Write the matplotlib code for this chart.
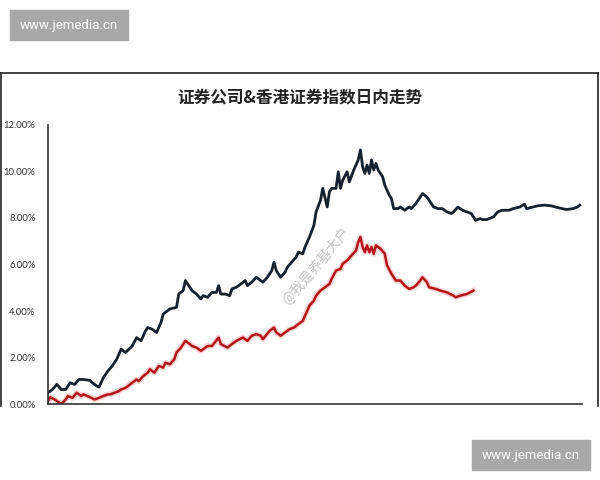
import matplotlib.pyplot as plt
from matplotlib.lines import Line2D
from matplotlib.patches import Rectangle

plt.rcParams["font.family"] = ["Noto Sans CJK SC", "DejaVu Sans"]

# 数据：分钟 / 日内涨幅(%)
black_t = [0, 2, 4, 6, 8, 10, 12, 14, 16, 19, 20, 22, 23, 25, 27, 29, 31, 33, 35, 38,
           40, 42, 44, 45, 47, 49, 51, 52, 55, 58, 59, 61, 62, 64, 65, 67, 69, 70, 72, 74,
           76, 77, 78, 80, 82, 83, 85, 87, 89, 90, 92, 94, 96, 97, 99, 101, 102, 103, 105, 107,
           108, 110, 112, 113, 115, 116, 118, 120, 121, 123, 124, 126, 127, 128, 130, 131, 132, 133, 135, 136,
           138, 140, 141, 142, 143, 144, 145, 146, 147, 148, 149, 151, 152, 154, 155, 156, 158, 159, 161, 163,
           164, 166, 168, 169, 171, 172, 174, 176, 178, 180, 182, 183, 185, 187, 189, 191, 193, 195, 196, 198,
           201, 203, 205, 208, 210, 213, 215, 216, 219, 221, 224, 227, 229, 232, 234, 237, 239, 240]
black_v = [0.49, 0.63, 0.85, 0.63, 0.63, 0.92, 0.85, 1.06, 1.06, 1.02, 0.92, 0.78, 0.73, 1.14, 1.42, 1.64, 1.93, 2.36, 2.22, 2.50,
           2.86, 2.72, 3.15, 3.29, 3.22, 3.08, 3.51, 3.87, 4.09, 4.16, 4.73, 4.88, 5.31, 5.02, 4.88, 4.73, 4.52, 4.66, 4.59, 4.80,
           4.80, 5.09, 4.73, 4.73, 4.66, 4.95, 5.02, 5.16, 5.31, 5.09, 5.24, 5.45, 5.31, 5.24, 5.45, 5.74, 6.10, 5.74, 5.45, 5.67,
           5.88, 6.10, 6.32, 6.53, 6.46, 6.75, 7.18, 7.68, 8.26, 8.76, 9.27, 8.47, 9.12, 9.27, 9.27, 9.98, 9.27, 9.62, 9.98, 9.55,
           10.06, 10.49, 10.92, 10.20, 9.91, 10.27, 9.91, 10.49, 10.06, 10.34, 10.06, 9.77, 9.41, 8.98, 8.83, 8.40, 8.40, 8.47, 8.33, 8.47,
           8.40, 8.62, 8.90, 9.05, 8.90, 8.76, 8.47, 8.40, 8.40, 8.26, 8.19, 8.26, 8.47, 8.33, 8.26, 8.19, 7.90, 7.97, 7.93, 7.93,
           8.04, 8.26, 8.33, 8.33, 8.40, 8.47, 8.59, 8.40, 8.47, 8.52, 8.55, 8.52, 8.47, 8.40, 8.36, 8.40, 8.47, 8.55]

red_t = [0, 1, 3, 6, 8, 9, 11, 13, 15, 16, 19, 21, 23, 25, 27, 28, 30, 32, 33, 35,
         38, 40, 41, 43, 45, 46, 48, 50, 52, 53, 55, 57, 58, 60, 62, 64, 65, 67, 69, 71,
         72, 74, 77, 78, 81, 83, 85, 88, 90, 92, 94, 96, 97, 100, 102, 103, 105, 107, 109, 111,
         113, 115, 116, 118, 120, 121, 123, 125, 127, 128, 130, 132, 133, 135, 137, 139, 140, 141, 142, 143,
         144, 145, 146, 147, 148, 150, 152, 153, 155, 157, 159, 161, 163, 165, 166, 168, 169, 171, 172, 175,
         177, 180, 183, 184, 186, 189, 192]
red_v = [0.13, 0.30, 0.20, 0.01, 0.20, 0.35, 0.27, 0.49, 0.35, 0.42, 0.30, 0.20, 0.27, 0.35, 0.42, 0.42, 0.49, 0.56, 0.63, 0.70,
         0.92, 1.06, 0.99, 1.21, 1.35, 1.50, 1.35, 1.64, 1.57, 1.78, 1.71, 1.93, 2.22, 2.43, 2.72, 2.58, 2.50, 2.43, 2.29, 2.43,
         2.50, 2.50, 2.86, 2.58, 2.43, 2.58, 2.72, 2.86, 2.72, 2.94, 3.01, 2.94, 2.79, 3.15, 3.29, 3.08, 2.94, 3.08, 3.22, 3.29,
         3.44, 3.58, 3.80, 4.23, 4.45, 4.66, 4.88, 5.02, 5.16, 5.38, 5.74, 5.81, 6.03, 6.17, 6.39, 6.60, 6.96, 7.18, 6.75, 6.53,
         6.82, 6.53, 6.75, 6.46, 6.82, 6.68, 6.46, 5.96, 5.60, 5.31, 5.31, 5.09, 4.95, 5.02, 5.09, 5.31, 5.45, 5.24, 5.02, 4.95,
         4.88, 4.80, 4.66, 4.59, 4.66, 4.73, 4.88]

yticks = [0, 2, 4, 6, 8, 10, 12]
title = "证券公司&香港证券指数日内走势"
watermark = "@我是养基大户"
site = "www.jemedia.cn"

fig = plt.figure(figsize=(6, 4.8), dpi=100)
fig.patch.set_facecolor("white")

# 截图外框（底边被裁掉）
for xs, ys in [([0.002, 0.997], [0.848, 0.848]), ([0.002, 0.002], [0.848, 0.155]),
               ([0.997, 0.997], [0.848, 0.155])]:
    fig.add_artist(Line2D(xs, ys, color="#222222", lw=1.2, transform=fig.transFigure))

ax = fig.add_axes([0.08, 0.158, 0.89, 0.582])
ax.plot(red_t, red_v, color="#e05050", lw=4.0, alpha=0.25, solid_joinstyle="round")
ax.plot(red_t, red_v, color="#b3161b", lw=1.8, solid_joinstyle="round")
ax.plot(black_t, black_v, color="#16202e", lw=2.0, solid_joinstyle="round")

ax.set_xlim(0, 241)
ax.set_ylim(0, 12)
ax.set_yticks(yticks)
ax.set_yticklabels(["{:.2f}%".format(v) for v in yticks], family="Lato", fontsize=6.8, color="#333333")
ax.set_xticks([])
ax.tick_params(axis="y", length=0, pad=9)
for s in ["top", "right"]:
    ax.spines[s].set_visible(False)
for s in ["left", "bottom"]:
    ax.spines[s].set_color("#333333")
    ax.spines[s].set_linewidth(1.2)

fig.text(0.5, 0.797, title, ha="center", va="center", fontsize=12, fontweight="bold", color="#222222")

# 水印
fig.text(0.527, 0.445, watermark, ha="center", va="center", rotation=50, fontsize=10, color="#c4c4c4")
fig.add_artist(Rectangle((10 / 600, 1 - 40 / 480), 118 / 600, 30 / 480, color="#a8a8a8",
                         transform=fig.transFigure))
fig.text(69 / 600, 1 - 25 / 480, site, ha="center", va="center", fontsize=9.5, color="white", family="Roboto")
fig.add_artist(Rectangle((472 / 600, 1 - 470 / 480), 118 / 600, 30 / 480, color="#a8a8a8",
                         transform=fig.transFigure))
fig.text(531 / 600, 1 - 455 / 480, site, ha="center", va="center", fontsize=9.5, color="white", family="Roboto")

fig.savefig("out.png", dpi=100)
